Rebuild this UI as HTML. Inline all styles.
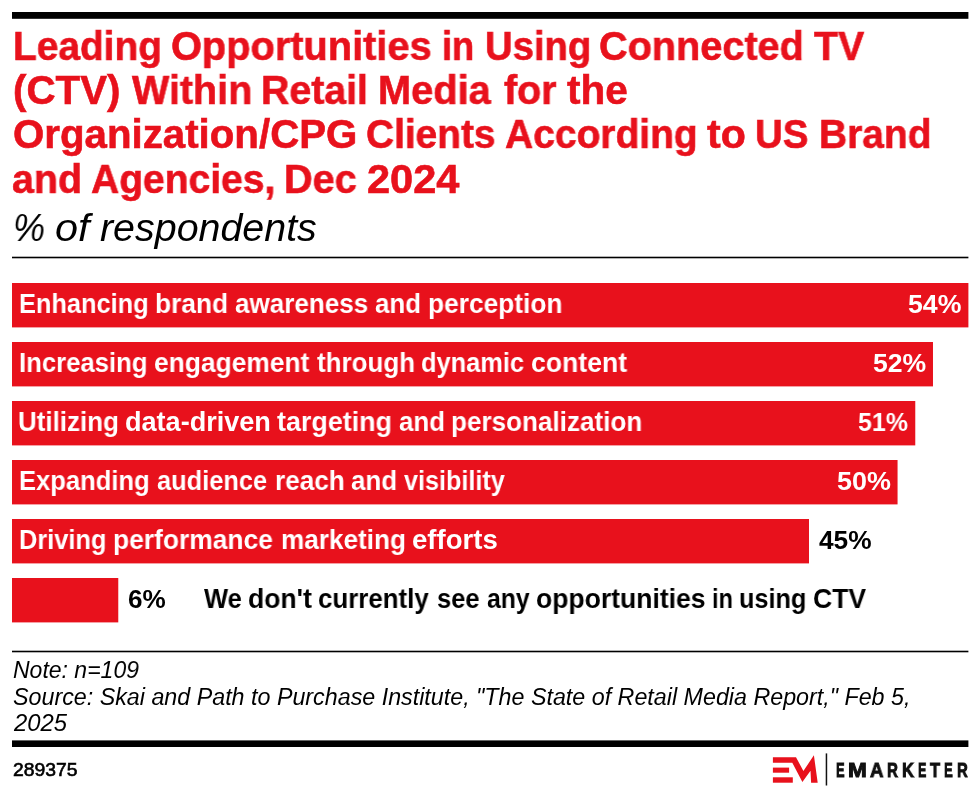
<!DOCTYPE html>
<html><head><meta charset="utf-8"><style>
html,body{margin:0;padding:0;background:#fff;width:980px;height:797px;overflow:hidden;position:relative}
.t{position:absolute;white-space:pre;font-family:"Liberation Sans",sans-serif;transform-origin:0 0;will-change:transform}
</style></head><body>
<svg width="980" height="797" viewBox="0 0 980 797" style="position:absolute;left:0;top:0">
<rect x="12" y="12" width="956.4" height="6.8" fill="#000"/>
<rect x="12" y="256.7" width="956.4" height="1.6" fill="#000"/>
<rect x="12" y="650.7" width="956.4" height="1.6" fill="#000"/>
<rect x="12" y="740.4" width="956.4" height="6.6" fill="#000"/>
<rect x="12" y="283" width="956.40" height="44.40" fill="#E8111C"/>
<rect x="12" y="342" width="920.98" height="44.40" fill="#E8111C"/>
<rect x="12" y="401" width="903.27" height="44.40" fill="#E8111C"/>
<rect x="12" y="460" width="885.56" height="44.40" fill="#E8111C"/>
<rect x="12" y="519" width="797.00" height="44.40" fill="#E8111C"/>
<rect x="12" y="578" width="106.27" height="44.40" fill="#E8111C"/>
<polygon fill="#E8111C" points="772.9,757.2 796.0,757.2 803.4,771.0 813.9,755.3 817.7,782.7 811.1,782.7 810.5,770.8 802.4,781.9 792.3,762.7 772.9,762.7"/>
<rect fill="#E8111C" x="772.9" y="767.6" width="16.2" height="5.1"/>
<rect fill="#E8111C" x="772.9" y="777.3" width="19.9" height="5.4"/>
<rect fill="#111" x="825.7" y="753.4" width="1.5" height="32.1"/>
</svg>
<div class="t" style="left:13.16px;top:26px;font-size:40px;line-height:40px;font-weight:bold;font-style:normal;color:#E8111C;transform:scaleX(0.9711);-webkit-text-stroke:0.6px #E8111C">Leading</div>
<div class="t" style="left:171.31px;top:26px;font-size:40px;line-height:40px;font-weight:bold;font-style:normal;color:#E8111C;transform:scaleX(0.9940);-webkit-text-stroke:0.6px #E8111C">Opportunities</div>
<div class="t" style="left:442.19px;top:26px;font-size:40px;line-height:40px;font-weight:bold;font-style:normal;color:#E8111C;transform:scaleX(0.9064);-webkit-text-stroke:0.6px #E8111C">in</div>
<div class="t" style="left:484.59px;top:26px;font-size:40px;line-height:40px;font-weight:bold;font-style:normal;color:#E8111C;transform:scaleX(0.9552);-webkit-text-stroke:0.6px #E8111C">Using</div>
<div class="t" style="left:599.31px;top:26px;font-size:40px;line-height:40px;font-weight:bold;font-style:normal;color:#E8111C;transform:scaleX(0.9909);-webkit-text-stroke:0.6px #E8111C">Connected</div>
<div class="t" style="left:814.00px;top:26px;font-size:40px;line-height:40px;font-weight:bold;font-style:normal;color:#E8111C;transform:scaleX(0.9818);-webkit-text-stroke:0.6px #E8111C">TV</div>
<div class="t" style="left:12.58px;top:70px;font-size:40px;line-height:40px;font-weight:bold;font-style:normal;color:#E8111C;transform:scaleX(1.0075);-webkit-text-stroke:0.6px #E8111C">(CTV)</div>
<div class="t" style="left:131.50px;top:70px;font-size:40px;line-height:40px;font-weight:bold;font-style:normal;color:#E8111C;transform:scaleX(0.9867);-webkit-text-stroke:0.6px #E8111C">Within</div>
<div class="t" style="left:261.34px;top:70px;font-size:40px;line-height:40px;font-weight:bold;font-style:normal;color:#E8111C;transform:scaleX(0.9818);-webkit-text-stroke:0.6px #E8111C">Retail</div>
<div class="t" style="left:378.31px;top:70px;font-size:40px;line-height:40px;font-weight:bold;font-style:normal;color:#E8111C;transform:scaleX(0.9954);-webkit-text-stroke:0.6px #E8111C">Media</div>
<div class="t" style="left:504.20px;top:70px;font-size:40px;line-height:40px;font-weight:bold;font-style:normal;color:#E8111C;transform:scaleX(0.9857);-webkit-text-stroke:0.6px #E8111C">for</div>
<div class="t" style="left:567.30px;top:70px;font-size:40px;line-height:40px;font-weight:bold;font-style:normal;color:#E8111C;transform:scaleX(1.0127);-webkit-text-stroke:0.6px #E8111C">the</div>
<div class="t" style="left:13.19px;top:114px;font-size:40px;line-height:40px;font-weight:bold;font-style:normal;color:#E8111C;transform:scaleX(1.0061);-webkit-text-stroke:0.6px #E8111C">Organization/CPG</div>
<div class="t" style="left:366.43px;top:114px;font-size:40px;line-height:40px;font-weight:bold;font-style:normal;color:#E8111C;transform:scaleX(0.9717);-webkit-text-stroke:0.6px #E8111C">Clients</div>
<div class="t" style="left:504.83px;top:114px;font-size:40px;line-height:40px;font-weight:bold;font-style:normal;color:#E8111C;transform:scaleX(0.9745);-webkit-text-stroke:0.6px #E8111C">According</div>
<div class="t" style="left:706.90px;top:114px;font-size:40px;line-height:40px;font-weight:bold;font-style:normal;color:#E8111C;transform:scaleX(1.0270);-webkit-text-stroke:0.6px #E8111C">to</div>
<div class="t" style="left:754.88px;top:114px;font-size:40px;line-height:40px;font-weight:bold;font-style:normal;color:#E8111C;transform:scaleX(0.9587);-webkit-text-stroke:0.6px #E8111C">US</div>
<div class="t" style="left:818.95px;top:114px;font-size:40px;line-height:40px;font-weight:bold;font-style:normal;color:#E8111C;transform:scaleX(0.9727);-webkit-text-stroke:0.6px #E8111C">Brand</div>
<div class="t" style="left:12.32px;top:159px;font-size:40px;line-height:40px;font-weight:bold;font-style:normal;color:#E8111C;transform:scaleX(0.9840);-webkit-text-stroke:0.6px #E8111C">and</div>
<div class="t" style="left:90.72px;top:159px;font-size:40px;line-height:40px;font-weight:bold;font-style:normal;color:#E8111C;transform:scaleX(0.9760);-webkit-text-stroke:0.6px #E8111C">Agencies,</div>
<div class="t" style="left:284.42px;top:159px;font-size:40px;line-height:40px;font-weight:bold;font-style:normal;color:#E8111C;transform:scaleX(0.9897);-webkit-text-stroke:0.6px #E8111C">Dec</div>
<div class="t" style="left:367.16px;top:159px;font-size:40px;line-height:40px;font-weight:bold;font-style:normal;color:#E8111C;transform:scaleX(1.0390);-webkit-text-stroke:0.6px #E8111C">2024</div>
<div class="t" style="left:13.25px;top:208px;font-size:39px;line-height:39px;font-weight:normal;font-style:italic;color:#000;transform:scaleX(0.9226)">%</div>
<div class="t" style="left:55.24px;top:208px;font-size:39px;line-height:39px;font-weight:normal;font-style:italic;color:#000;transform:scaleX(1.0619)">of</div>
<div class="t" style="left:100.40px;top:208px;font-size:39px;line-height:39px;font-weight:normal;font-style:italic;color:#000;transform:scaleX(1.0100)">respondents</div>
<div class="t" style="left:18.86px;top:291px;font-size:27px;line-height:27px;font-weight:bold;font-style:normal;color:#fff;transform:scaleX(0.9394)">Enhancing</div>
<div class="t" style="left:155.02px;top:291px;font-size:27px;line-height:27px;font-weight:bold;font-style:normal;color:#fff;transform:scaleX(0.9751)">brand</div>
<div class="t" style="left:235.00px;top:291px;font-size:27px;line-height:27px;font-weight:bold;font-style:normal;color:#fff;transform:scaleX(0.9651)">awareness</div>
<div class="t" style="left:375.30px;top:291px;font-size:27px;line-height:27px;font-weight:bold;font-style:normal;color:#fff;transform:scaleX(0.9590)">and</div>
<div class="t" style="left:427.63px;top:291px;font-size:27px;line-height:27px;font-weight:bold;font-style:normal;color:#fff;transform:scaleX(0.9747)">perception</div>
<div class="t" style="left:18.85px;top:350px;font-size:27px;line-height:27px;font-weight:bold;font-style:normal;color:#fff;transform:scaleX(0.9520)">Increasing</div>
<div class="t" style="left:153.72px;top:350px;font-size:27px;line-height:27px;font-weight:bold;font-style:normal;color:#fff;transform:scaleX(0.9770)">engagement</div>
<div class="t" style="left:316.70px;top:350px;font-size:27px;line-height:27px;font-weight:bold;font-style:normal;color:#fff;transform:scaleX(0.9615)">through</div>
<div class="t" style="left:421.16px;top:350px;font-size:27px;line-height:27px;font-weight:bold;font-style:normal;color:#fff;transform:scaleX(0.9408)">dynamic</div>
<div class="t" style="left:530.81px;top:350px;font-size:27px;line-height:27px;font-weight:bold;font-style:normal;color:#fff;transform:scaleX(0.9855)">content</div>
<div class="t" style="left:18.14px;top:409px;font-size:27px;line-height:27px;font-weight:bold;font-style:normal;color:#fff;transform:scaleX(0.9611)">Utilizing</div>
<div class="t" style="left:124.90px;top:409px;font-size:27px;line-height:27px;font-weight:bold;font-style:normal;color:#fff;transform:scaleX(1.0025)">data-driven</div>
<div class="t" style="left:277.10px;top:409px;font-size:27px;line-height:27px;font-weight:bold;font-style:normal;color:#fff;transform:scaleX(0.9955)">targeting</div>
<div class="t" style="left:398.60px;top:409px;font-size:27px;line-height:27px;font-weight:bold;font-style:normal;color:#fff;transform:scaleX(0.9590)">and</div>
<div class="t" style="left:450.83px;top:409px;font-size:27px;line-height:27px;font-weight:bold;font-style:normal;color:#fff;transform:scaleX(0.9661)">personalization</div>
<div class="t" style="left:18.85px;top:468px;font-size:27px;line-height:27px;font-weight:bold;font-style:normal;color:#fff;transform:scaleX(0.9468)">Expanding</div>
<div class="t" style="left:157.20px;top:468px;font-size:27px;line-height:27px;font-weight:bold;font-style:normal;color:#fff;transform:scaleX(0.9408)">audience</div>
<div class="t" style="left:275.03px;top:468px;font-size:27px;line-height:27px;font-weight:bold;font-style:normal;color:#fff;transform:scaleX(0.9690)">reach</div>
<div class="t" style="left:351.40px;top:468px;font-size:27px;line-height:27px;font-weight:bold;font-style:normal;color:#fff;transform:scaleX(0.9611)">and</div>
<div class="t" style="left:403.80px;top:468px;font-size:27px;line-height:27px;font-weight:bold;font-style:normal;color:#fff;transform:scaleX(0.9331)">visibility</div>
<div class="t" style="left:18.86px;top:527px;font-size:27px;line-height:27px;font-weight:bold;font-style:normal;color:#fff;transform:scaleX(0.9401)">Driving</div>
<div class="t" style="left:113.12px;top:527px;font-size:27px;line-height:27px;font-weight:bold;font-style:normal;color:#fff;transform:scaleX(0.9776)">performance</div>
<div class="t" style="left:280.63px;top:527px;font-size:27px;line-height:27px;font-weight:bold;font-style:normal;color:#fff;transform:scaleX(0.9688)">marketing</div>
<div class="t" style="left:411.88px;top:527px;font-size:27px;line-height:27px;font-weight:bold;font-style:normal;color:#fff;transform:scaleX(1.0209)">efforts</div>
<div class="t" style="left:907.50px;top:291px;font-size:26px;line-height:26px;font-weight:bold;font-style:normal;color:#fff;transform:scaleX(1.0266)">54%</div>
<div class="t" style="left:872.50px;top:350px;font-size:26px;line-height:26px;font-weight:bold;font-style:normal;color:#fff;transform:scaleX(1.0227)">52%</div>
<div class="t" style="left:858.30px;top:409px;font-size:26px;line-height:26px;font-weight:bold;font-style:normal;color:#fff;transform:scaleX(0.9592)">51%</div>
<div class="t" style="left:836.90px;top:468px;font-size:26px;line-height:26px;font-weight:bold;font-style:normal;color:#fff;transform:scaleX(1.0362)">50%</div>
<div class="t" style="left:818.90px;top:527px;font-size:26px;line-height:26px;font-weight:bold;font-style:normal;color:#000;transform:scaleX(1.0112)">45%</div>
<div class="t" style="left:127.80px;top:586px;font-size:26px;line-height:26px;font-weight:bold;font-style:normal;color:#000;transform:scaleX(1.0037)">6%</div>
<div class="t" style="left:203.70px;top:586px;font-size:27px;line-height:27px;font-weight:bold;font-style:normal;color:#000;transform:scaleX(0.9426)">We</div>
<div class="t" style="left:248.32px;top:586px;font-size:27px;line-height:27px;font-weight:bold;font-style:normal;color:#000;transform:scaleX(0.9828)">don&#x27;t</div>
<div class="t" style="left:318.44px;top:586px;font-size:27px;line-height:27px;font-weight:bold;font-style:normal;color:#000;transform:scaleX(0.9587)">currently</div>
<div class="t" style="left:437.10px;top:586px;font-size:27px;line-height:27px;font-weight:bold;font-style:normal;color:#000;transform:scaleX(0.9438)">see</div>
<div class="t" style="left:486.90px;top:586px;font-size:27px;line-height:27px;font-weight:bold;font-style:normal;color:#000;transform:scaleX(0.9160)">any</div>
<div class="t" style="left:536.02px;top:586px;font-size:27px;line-height:27px;font-weight:bold;font-style:normal;color:#000;transform:scaleX(0.9826)">opportunities</div>
<div class="t" style="left:712.03px;top:586px;font-size:27px;line-height:27px;font-weight:bold;font-style:normal;color:#000;transform:scaleX(0.8744)">in</div>
<div class="t" style="left:739.36px;top:586px;font-size:27px;line-height:27px;font-weight:bold;font-style:normal;color:#000;transform:scaleX(0.9352)">using</div>
<div class="t" style="left:812.62px;top:586px;font-size:27px;line-height:27px;font-weight:bold;font-style:normal;color:#000;transform:scaleX(0.9832)">CTV</div>
<div class="t" style="left:13.20px;top:659px;font-size:23px;line-height:23px;font-weight:normal;font-style:italic;color:#000;transform:scaleX(0.9994)">Note: n=109</div>
<div class="t" style="left:13.20px;top:686px;font-size:23px;line-height:23px;font-weight:normal;font-style:italic;color:#000;transform:scaleX(1.0118)">Source: Skai and Path to Purchase Institute, &quot;The State of Retail Media Report,&quot; Feb 5,</div>
<div class="t" style="left:14.24px;top:712px;font-size:23px;line-height:23px;font-weight:normal;font-style:italic;color:#000;transform:scaleX(1.0368)">2025</div>
<div class="t" style="left:12.70px;top:761px;font-size:18.5px;line-height:18.5px;font-weight:normal;font-style:normal;color:#000;transform:scaleX(1.0449);-webkit-text-stroke:0.6px #000">289375</div>
<div class="t" style="left:835.79px;top:759px;font-size:21px;line-height:21px;font-weight:bold;font-style:normal;color:#111;transform:scaleX(0.6077);-webkit-text-stroke:1.0px #111">E</div>
<div class="t" style="left:847.82px;top:759px;font-size:21px;line-height:21px;font-weight:bold;font-style:normal;color:#111;transform:scaleX(1.0750);-webkit-text-stroke:1.0px #111">M</div>
<div class="t" style="left:869.90px;top:759px;font-size:21px;line-height:21px;font-weight:bold;font-style:normal;color:#111;transform:scaleX(0.8867);-webkit-text-stroke:1.0px #111">A</div>
<div class="t" style="left:887.08px;top:759px;font-size:21px;line-height:21px;font-weight:bold;font-style:normal;color:#111;transform:scaleX(0.7214);-webkit-text-stroke:1.0px #111">R</div>
<div class="t" style="left:901.91px;top:759px;font-size:21px;line-height:21px;font-weight:bold;font-style:normal;color:#111;transform:scaleX(0.7857);-webkit-text-stroke:1.0px #111">K</div>
<div class="t" style="left:917.91px;top:759px;font-size:21px;line-height:21px;font-weight:bold;font-style:normal;color:#111;transform:scaleX(0.5923);-webkit-text-stroke:1.0px #111">E</div>
<div class="t" style="left:929.50px;top:759px;font-size:21px;line-height:21px;font-weight:bold;font-style:normal;color:#111;transform:scaleX(0.7923);-webkit-text-stroke:1.0px #111">T</div>
<div class="t" style="left:943.88px;top:759px;font-size:21px;line-height:21px;font-weight:bold;font-style:normal;color:#111;transform:scaleX(0.6231);-webkit-text-stroke:1.0px #111">E</div>
<div class="t" style="left:957.49px;top:759px;font-size:21px;line-height:21px;font-weight:bold;font-style:normal;color:#111;transform:scaleX(0.7071);-webkit-text-stroke:1.0px #111">R</div>
</body></html>
